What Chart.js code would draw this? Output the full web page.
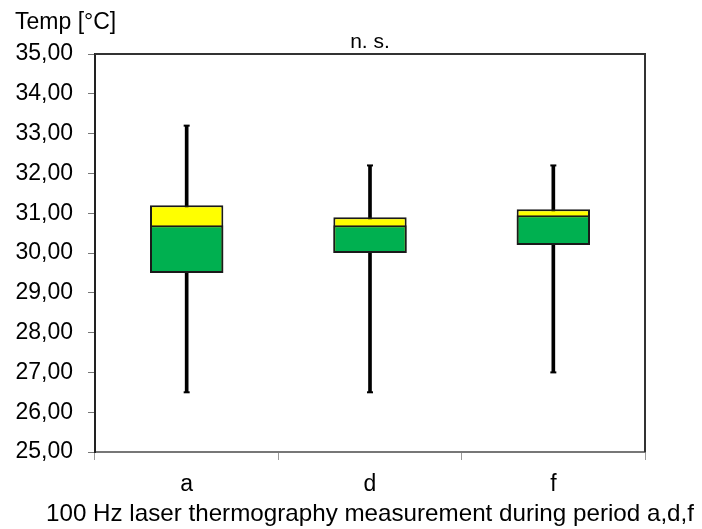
<!DOCTYPE html>
<html>
<head>
<meta charset="utf-8">
<script src="https://cdn.jsdelivr.net/npm/chart.js@4/dist/chart.umd.min.js"></script>
<style>
  html, body { margin: 0; padding: 0; background: #fff; }
  #wrap { width: 702px; height: 529px; position: relative; }
</style>
</head>
<body>
<div id="wrap"><canvas id="chart"></canvas></div>
<script>
// box plot values
const categories = ['a', 'd', 'f'];
const whiskerMin = [26.5, 26.5, 27.0];
const q1 = [29.5, 30.0, 30.2];
const median = [30.7, 30.7, 30.95];
const q3 = [31.2, 30.9, 31.1];
const whiskerMax = [33.2, 32.2, 32.2];
const yMin = 25, yMax = 35, yStep = 1;
const xTitle = '100 Hz laser thermography measurement during period a,d,f';

const FONT = "'Liberation Sans', Arial, sans-serif";

// frame on top/right plus the free texts
const extras = {
  id: 'extras',
  beforeDatasetsDraw(chart) {
    const { ctx, chartArea: a } = chart;
    ctx.save();
    ctx.strokeStyle = '#333';
    ctx.lineWidth = 2;
    ctx.beginPath();
    ctx.moveTo(a.left, a.top);
    ctx.lineTo(a.right, a.top);
    ctx.lineTo(a.right, a.bottom);
    ctx.stroke();
    ctx.restore();
  },
  afterDraw(chart) {
    const { ctx, chartArea: a } = chart;
    ctx.save();
    ctx.fillStyle = '#000';
    ctx.textBaseline = 'middle';
    ctx.font = '23px ' + FONT;
    ctx.textAlign = 'left';
    ctx.fillText('Temp [°C]', 15, 23);
    ctx.font = '21px ' + FONT;
    ctx.textAlign = 'center';
    ctx.fillText('n. s.', (a.left + a.right) / 2, 42);

    // x axis title, stretched a bit wider like the original
    ctx.font = '24px ' + FONT;
    const w = ctx.measureText(xTitle).width;
    const sx = 648 / w;
    const cx = (a.left + a.right) / 2;
    ctx.translate(cx, 514);
    ctx.scale(sx, 1);
    ctx.fillText(xTitle, 0, 0);
    ctx.restore();
  }
};

const boxStyle = {
  borderColor: '#1a1a1a',
  borderWidth: 2,
  borderSkipped: false,
  barPercentage: 0.4,
  categoryPercentage: 1,
  grouped: false
};

new Chart(document.getElementById('chart'), {
  type: 'bar',
  data: {
    labels: categories,
    datasets: [
      // lower half (Q1..median) sits on top of the full box
      Object.assign({
        label: 'Q1-median',
        data: categories.map((_, i) => [q1[i], median[i]]),
        backgroundColor: '#00B050',
        order: 1
      }, boxStyle),
      // full box Q1..Q3 in yellow, only its upper part stays visible
      Object.assign({
        label: 'Q1-Q3',
        data: categories.map((_, i) => [q1[i], q3[i]]),
        backgroundColor: '#FFFF00',
        order: 2
      }, boxStyle),
      {
        label: 'whisker',
        data: categories.map((_, i) => [whiskerMin[i], whiskerMax[i]]),
        backgroundColor: '#000',
        barThickness: 3,
        grouped: false,
        order: 3
      },
      {
        type: 'line',
        label: 'max',
        data: whiskerMax,
        showLine: false,
        pointStyle: 'line',
        pointRadius: 3,
        pointBorderWidth: 2,
        pointBorderColor: '#000',
        order: 0
      },
      {
        type: 'line',
        label: 'min',
        data: whiskerMin,
        showLine: false,
        pointStyle: 'line',
        pointRadius: 3,
        pointBorderWidth: 2,
        pointBorderColor: '#000',
        order: 0
      }
    ]
  },
  options: {
    responsive: true,
    maintainAspectRatio: false,
    animation: false,
    layout: { padding: { top: 54, right: 57, bottom: 0, left: 0 } },
    plugins: {
      legend: { display: false },
      tooltip: { enabled: false }
    },
    scales: {
      x: {
        type: 'category',
        offset: true,
        afterFit(scale) { scale.height = 77; },
        border: { color: '#777', width: 2 },
        grid: { offset: true, drawOnChartArea: false, tickLength: 8, color: '#999' },
        ticks: { color: '#000', font: { family: FONT, size: 23 }, padding: 11 }
      },
      y: {
        min: yMin,
        max: yMax,
        afterFit(scale) { scale.width = 95; },
        border: { color: '#222', width: 2 },
        grid: { drawOnChartArea: false, tickLength: 7, color: '#777' },
        ticks: {
          stepSize: yStep,
          color: '#000',
          padding: 15,
          font: { family: FONT, size: 23 },
          callback: v => v.toFixed(2).replace('.', ',')
        }
      }
    }
  },
  plugins: [extras]
});
</script>
</body>
</html>
